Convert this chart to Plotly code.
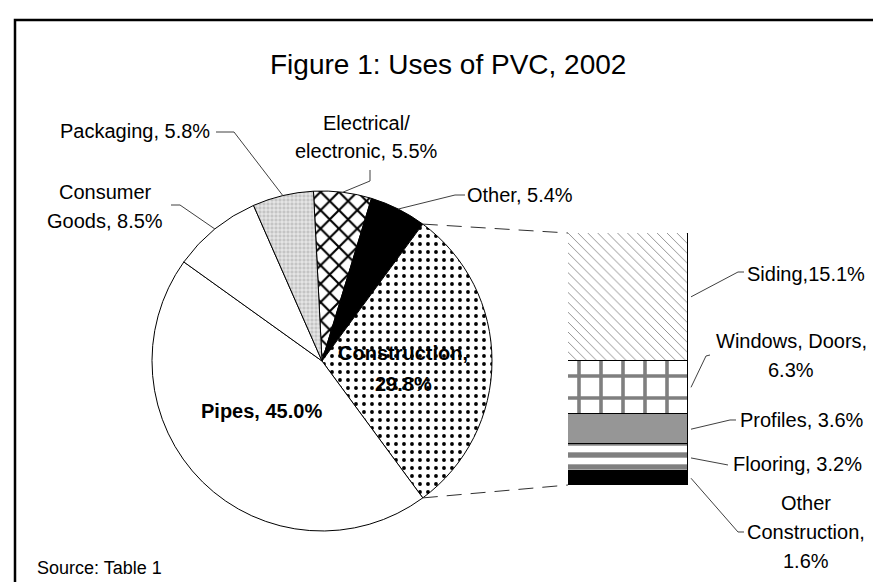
import math
import plotly.graph_objects as go

W, H = 881, 582

# ---------------- data ----------------
pie_labels = ["Electrical/ electronic", "Other", "Construction", "Pipes", "Consumer Goods", "Packaging"]
pie_values = [5.5, 5.4, 29.8, 45.0, 8.5, 5.8]

bar_labels = ["Other Construction", "Flooring", "Profiles", "Windows, Doors", "Siding"]
bar_values = [1.6, 3.2, 3.6, 6.3, 15.1]

title_text = "Figure 1: Uses of PVC, 2002"
source_text = "Source: Table 1"

# ---------------- layout geometry (pixels) ----------------
CX, CY, R = 314, 353, 170           # pie centre / radius
BX0, BX1, BY0, BY1 = 560, 680, 225, 477   # bar box (left, right, top, bottom)

def px(x):
    return x / W

def py(y):
    return 1 - y / H

FONT = "Arial, Liberation Sans, sans-serif"

fig = go.Figure()

# pie: construction slice centred on 3 o'clock (pie-of-bar style)
idx_c = pie_labels.index("Construction")
before = sum(pie_values[:idx_c]) + pie_values[idx_c] / 2
total = sum(pie_values)
rotation = 90 - before / total * 360

fig.add_trace(go.Pie(
    labels=pie_labels, values=pie_values, sort=False, direction="clockwise",
    rotation=rotation, textinfo="none", hoverinfo="label+value",
    domain=dict(x=[px(CX - R), px(CX + R)], y=[py(CY + R), py(CY - R)]),
    marker=dict(
        colors=["white", "black", "white", "white", "white", "#c4c4c4"],
        line=dict(color="black", width=1),
        pattern=dict(
            shape=["x", "", ".", "", "", "+"],
            fgcolor=["black", "black", "black", "black", "black", "white"],
            bgcolor=["white", "black", "white", "white", "white", "#c4c4c4"],
            size=[13, 8, 8, 8, 8, 4],
            solidity=[0.3, 0.3, 0.18, 0.3, 0.3, 0.3],
        ),
    ),
    showlegend=False,
))

bar_style = {
    "Other Construction": dict(color="black", shape="", fg="black", size=8, sol=0.3),
    "Flooring": dict(color="white", shape="-", fg="black", size=12, sol=0.45),
    "Profiles": dict(color="#969696", shape="", fg="black", size=8, sol=0.3),
    "Windows, Doors": dict(color="white", shape="+", fg="black", size=22, sol=0.3),
    "Siding": dict(color="white", shape="\\", fg="black", size=7, sol=0.12),
}
for lab, val in zip(bar_labels, bar_values):
    st = bar_style[lab]
    fig.add_trace(go.Bar(
        x=[0], y=[val], name=lab, width=1,
        marker=dict(color=st["color"], line=dict(color="black", width=1),
                    pattern=dict(shape=st["shape"], fgcolor=st["fg"], bgcolor=st["color"],
                                 size=st["size"], solidity=st["sol"])),
        showlegend=False, hoverinfo="name+y",
    ))

bar_total = sum(bar_values)

shapes = []
annotations = []

# frame
shapes.append(dict(type="rect", xref="paper", yref="paper",
                   x0=px(7), x1=1.05, y0=-0.05, y1=py(12),
                   line=dict(color="black", width=2.5), fillcolor="rgba(0,0,0,0)"))

# helpers: pie arc point & bar edge point
def pie_point(angle_deg):
    a = math.radians(angle_deg)
    return CX + R * math.sin(a), CY - R * math.cos(a)

cum = [0]
for v in pie_values:
    cum.append(cum[-1] + v)

def slice_mid(i):
    return rotation + (cum[i] + pie_values[i] / 2) / total * 360

def bar_mid(i):
    c = sum(bar_values[:i]) + bar_values[i] / 2
    return BY1 - c / bar_total * (BY1 - BY0)

def path(points, color="#404040", width=1, dash="solid"):
    d = "M " + " L ".join(f"{px(x):.5f},{py(y):.5f}" for x, y in points)
    shapes.append(dict(type="path", xref="paper", yref="paper", path=d,
                       line=dict(color=color, width=width, dash=dash)))

# dashed connectors from construction slice edges to bar
a_start = rotation + cum[idx_c] / total * 360
a_end = rotation + cum[idx_c + 1] / total * 360
path([pie_point(a_start), (BX0, BY0)], color="#303030", dash="15px,9px")
path([pie_point(a_end), (BX0, BY1)], color="#303030", dash="15px,9px")

# pie leader lines
path([(208, 124), (226, 124), pie_point(slice_mid(5))])
path([(163, 197), (172, 197), pie_point(slice_mid(4))])
path([(362, 162), (362, 173), pie_point(slice_mid(0))])
path([(457, 187), (447, 187), pie_point(slice_mid(1))])

# bar leader lines
path([(736, 264), (730, 264), (BX1 + 3, bar_mid(4))])
path([(702, 347), (698, 348), (BX1 + 3, bar_mid(3))])
path([(728, 412), (722, 412), (BX1 + 3, bar_mid(2))])
path([(720, 457), (BX1 + 3, bar_mid(1))])
path([(736, 524), (730, 524), (BX1 + 3, bar_mid(0))])

def text(lines, x, ys, size=20, bold=False, anchor="center"):
    for t, y in zip(lines, ys):
        annotations.append(dict(
            text=f"<b>{t}</b>" if bold else t, x=px(x), y=py(y),
            xref="paper", yref="paper", showarrow=False,
            xanchor=anchor, yanchor="middle",
            font=dict(family=FONT, size=size, color="black")))

text([title_text], 440, [57], size=28)
text(["Packaging, 5.8%"], 127, [123])
text(["Consumer", "Goods, 8.5%"], 97, [184, 213])
text(["Electrical/", "electronic, 5.5%"], 358, [115, 143])
text(["Other, 5.4%"], 512, [187])
text(["Construction,", "29.8%"], 395, [345, 376], bold=True)
text(["Pipes, 45.0%"], 253, [403], bold=True)
text(["Siding,15.1%"], 798, [266])
text(["Windows, Doors,", "6.3%"], 783, [333, 362])
text(["Profiles, 3.6%"], 794, [412])
text(["Flooring, 3.2%"], 789, [456])
text(["Other", "Construction,", "1.6%"], 798, [495, 524, 553])
text([source_text], 27, [560], size=18, anchor="left")

fig.update_layout(
    width=W, height=H, margin=dict(l=0, r=0, t=0, b=0),
    paper_bgcolor="white", plot_bgcolor="rgba(0,0,0,0)",
    barmode="stack", bargap=0,
    xaxis=dict(domain=[px(BX0), px(BX1)], range=[-0.5, 0.5], visible=False, fixedrange=True),
    yaxis=dict(domain=[py(BY1), py(BY0)], range=[0, bar_total], visible=False, fixedrange=True),
    shapes=shapes, annotations=annotations,
    font=dict(family=FONT),
)

fig.write_html("out.html")
